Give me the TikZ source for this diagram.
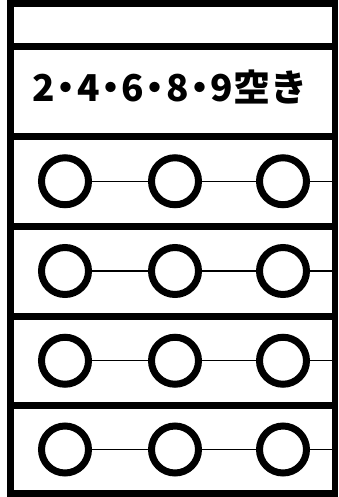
\documentclass[tikz,border=0pt]{standalone}
\usepackage{fontspec}
\newfontfamily\jpfont{Noto Sans CJK JP}
\newcommand\sep{\kern-7.5pt・\kern-7.5pt}
\begin{document}
\begin{tikzpicture}[x=1pt,y=-1pt,
    hole/.style={circle, draw, line width=7pt, minimum size=47pt, inner sep=0pt},
    rule/.style={line width=7pt},
    link/.style={line width=1.3pt}]
  \useasboundingbox (0,0) rectangle (338,497);
  \fill[white] (0,0) rectangle (338,497);
  % frame
  \draw[line width=6.5pt] (10.5,0) -- (10.5,497);
  \draw[line width=6pt] (335,0) -- (335,497);
  \foreach \y in {3.5,46.5,136.5,226,316,405.5,493.5}
    \draw[rule] (7,\y) -- (338,\y);
  \node[font=\jpfont\bfseries\fontsize{37}{37}\selectfont, anchor=base, inner sep=0pt] (title) at (170,101.5) {2\sep 4\sep 6\sep 8\sep 9空き};
  % rows of holes
  \foreach \r/\y in {1/181.25, 2/271, 3/360.75, 4/449.5}{
    \node[hole] (h\r a) at (65,\y) {};
    \node[hole] (h\r b) at (175,\y) {};
    \node[hole] (h\r c) at (283,\y) {};
    \coordinate (e\r) at (332,\y);
    \draw[link] (h\r a) -- (h\r b);
    \draw[link] (h\r b) -- (h\r c);
    \draw[link] (h\r c) -- (e\r);
  }
\end{tikzpicture}
\end{document}
